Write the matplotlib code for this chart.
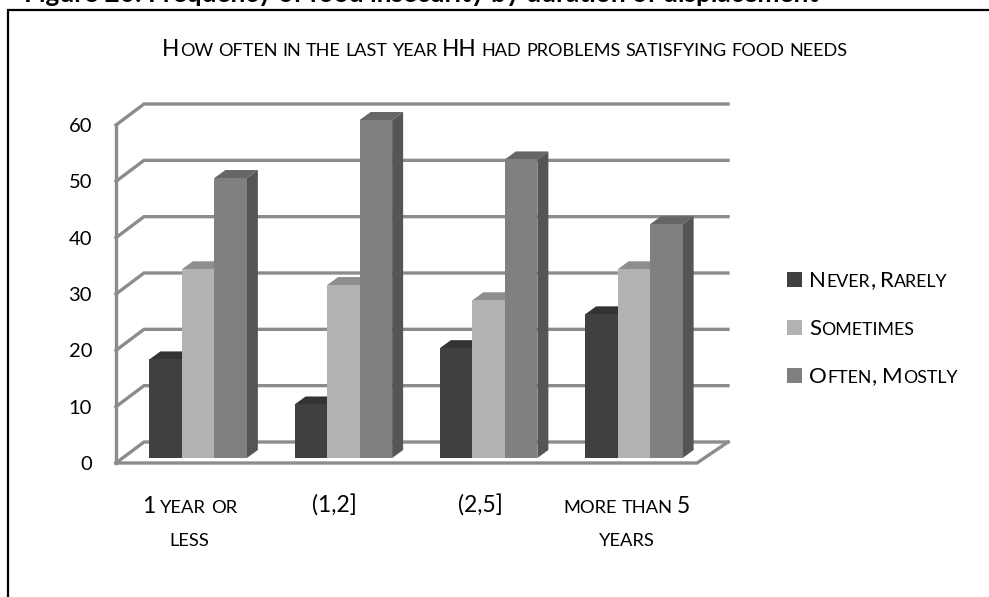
"""Grouped pseudo-3D column chart: food insecurity by duration of displacement."""
import matplotlib

matplotlib.use("Agg")
import matplotlib.pyplot as plt  # noqa: E402
from matplotlib.lines import Line2D  # noqa: E402
from matplotlib.patches import Polygon, Rectangle  # noqa: E402

categories = [["1 year or", "less"], ["(1,2]"], ["(2,5]"], ["more than 5", "years"]]
series_names = ["Never, Rarely", "Sometimes", "Often, Mostly"]
never_rarely = [17.5, 9.5, 19.5, 25.5]
sometimes = [33.5, 30.7, 28, 33.5]
often_mostly = [49.7, 60, 53, 41.5]
y_ticks = [0, 10, 20, 30, 40, 50, 60]

W, H = 989, 597
FONT = "Lato"
GRID = "#8c8c8c"
FRONT = ["#404040", "#b2b2b2", "#808080"]
TOP = ["#333333", "#8e8e8e", "#666666"]
SIDE = ["#303030", "#868686", "#555555"]

plt.rcParams["font.family"] = [FONT, "DejaVu Sans"]

fig = plt.figure(figsize=(W / 100, H / 100), dpi=100)
# 轴的范围按像素定位
ax = fig.add_axes([116 / W, 1 - 463 / H, (697 - 116) / W, (463 - 125) / H])
ax.set_xlim(-0.5, 3.5)
ax.set_ylim(0, 60)
ax.axis("off")

px = 4 / (697 - 116)  # 一个像素对应的 x 数据量
py = 60 / (463 - 125)
wall_dx, wall_dy = 28 * px, 21 * py
back_right = 3.5 + 31 * px
bar_w = 32.5 * px
depth_dx, depth_dy = 11 * px, 8 * py
off_x, off_y = 9.5 * px, 5 * py

for v in y_ticks:
    ax.plot([-0.5, -0.5 + wall_dx, back_right], [v, v + wall_dy, v + wall_dy],
            color=GRID, lw=2.4, solid_joinstyle="miter", clip_on=False, zorder=1)
ax.plot([-0.5, -0.5], [0, 60], color=GRID, lw=2.4, clip_on=False, zorder=1)
ax.plot([-0.5, 3.5, back_right], [0, 0, wall_dy], color=GRID, lw=2.4,
        solid_joinstyle="miter", clip_on=False, zorder=1)

for i in range(len(categories)):
    for s, values in enumerate([never_rarely, sometimes, often_mostly]):
        x0 = i + off_x + (s - 1.5) * bar_w
        x1 = x0 + bar_w
        y1 = off_y + values[i]
        z = 3 + s
        ax.add_patch(Polygon([(x0, y1), (x1, y1), (x1 + depth_dx, y1 + depth_dy),
                              (x0 + depth_dx, y1 + depth_dy)],
                             facecolor=TOP[s], edgecolor="none", clip_on=False, zorder=z))
        ax.add_patch(Polygon([(x1, off_y), (x1 + depth_dx, off_y + depth_dy),
                              (x1 + depth_dx, y1 + depth_dy), (x1, y1)],
                             facecolor=SIDE[s], edgecolor="none", clip_on=False, zorder=z))
        ax.add_patch(Rectangle((x0, off_y), bar_w, values[i], facecolor=FRONT[s],
                               edgecolor="none", clip_on=False, zorder=z + 0.5))


def smallcaps_width(text, size, renderer):
    """按小型大写字母分段，返回 (片段, 字号, 宽度) 列表和总宽。"""
    parts = []
    total = 0
    i = 0
    while i < len(text):
        j = i + 1
        small = text[i].islower()
        while j < len(text) and text[j].islower() == small and text[j] != " " and text[i] != " ":
            j += 1
        chunk = text[i:j]
        fs = size * 0.8 if small else size
        if chunk == " ":
            w = size * 0.27
        else:
            t = fig.text(0, 0, chunk.upper(), fontsize=fs)
            w = t.get_window_extent(renderer).width + 0.4
            t.remove()
        parts.append((chunk, fs, w))
        total += w
        i = j
    return parts, total


def smallcaps(x, baseline, text, size, ha="left"):
    """在像素坐标 (x, baseline) 处写小型大写文字。"""
    renderer = fig.canvas.get_renderer()
    parts, total = smallcaps_width(text, size, renderer)
    if ha == "center":
        x -= total / 2
    for chunk, fs, w in parts:
        if chunk != " ":
            fig.text(x / W, 1 - baseline / H, chunk.upper(), fontsize=fs, color="black",
                     va="baseline", ha="left")
        x += w


for v in y_ticks:
    y = 463 - v / py
    fig.text(92 / W, 1 - y / H, str(v), fontsize=14.5, ha="right", va="center_baseline",
             color="black")

label_x = [190, 335, 481, 627]
for cx, lines in zip(label_x, categories):
    for n, line in enumerate(lines):
        smallcaps(cx, 513 + n * 33, line, 16.5, ha="center")

smallcaps(505, 56, "How often in the last year HH had problems satisfying food needs",
          16.3, ha="center")

legend_y = [279, 327, 375]
for name, c, y in zip(series_names, FRONT, legend_y):
    fig.patches.append(Rectangle((787 / W, 1 - (y + 8) / H), 15 / W, 15 / H, facecolor=c,
                                 edgecolor="none", transform=fig.transFigure))
    smallcaps(809, y + 8, name, 16)

# 只有上边和左边有框线
fig.add_artist(Line2D([8 / W, 8 / W, 1], [0, 1 - 10 / H, 1 - 10 / H], color="black", lw=1.6,
                      solid_joinstyle="miter", transform=fig.transFigure))
fig.text(24 / W, 1 - 2 / H, "Figure 20: Frequency of food insecurity by duration of displacement",
         fontsize=18.9, fontweight="bold", color="black", va="baseline", ha="left")

fig.savefig("out.png", dpi=100)
plt.close(fig)
